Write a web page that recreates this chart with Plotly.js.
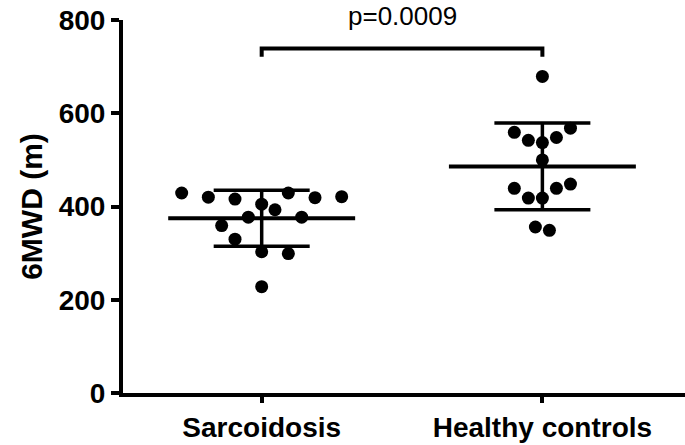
<!DOCTYPE html>
<html>
<head>
<meta charset="utf-8">
<script src="https://cdn.plot.ly/plotly-3.0.1.min.js"></script>
<style>html,body{margin:0;padding:0;background:#fff;}#chart{width:685px;height:445px;}</style>
</head>
<body>
<div id="chart"></div>
<script>
// Data
var categories = ["Sarcoidosis", "Healthy controls"];
var sarcoidosisValues = [429, 420, 416, 405, 429, 419, 421, 393, 377, 377, 359, 330, 303, 299, 228];
var sarcoidosisJitter = [-0.285, -0.19, -0.095, 0, 0.095, 0.19, 0.285, 0.0475, 0.1425, -0.0475, -0.1425, -0.095, 0, 0.095, 0];
var healthyValues = [679, 559, 542, 537, 548, 568, 500, 439, 418, 418, 439, 448, 356, 349];
var healthyJitter = [0, -0.1, -0.05, 0, 0.05, 0.1, 0, -0.1, -0.05, 0, 0.05, 0.1, -0.025, 0.025];
var groupMeans = [375, 486];
var groupSD = [60, 93];
var yTickValues = [0, 200, 400, 600, 800];
var pValueText = "p=0.0009";
var bracketTop = 739;
var bracketBottom = 721;

var meanHalfWidth = 0.333;
var traces = [];
var groups = [
  {vals: sarcoidosisValues, jit: sarcoidosisJitter},
  {vals: healthyValues, jit: healthyJitter}
];
groups.forEach(function (g, i) {
  traces.push({
    type: "scatter", mode: "markers",
    x: g.jit.map(function (d) { return i + d; }),
    y: g.vals,
    marker: {color: "#000", size: 13},
    hoverinfo: "y", showlegend: false
  });
  traces.push({
    type: "scatter", mode: "lines",
    x: [i - meanHalfWidth, i + meanHalfWidth],
    y: [groupMeans[i], groupMeans[i]],
    line: {color: "#000", width: 4},
    hoverinfo: "skip", showlegend: false
  });
  traces.push({
    type: "scatter", mode: "markers",
    x: [i], y: [groupMeans[i]],
    marker: {color: "rgba(0,0,0,0)", size: 1},
    error_y: {type: "data", array: [groupSD[i]], visible: true, color: "#000", thickness: 3.5, width: 48},
    hoverinfo: "skip", showlegend: false
  });
});
traces.push({
  type: "scatter", mode: "lines",
  x: [0, 0, 1, 1],
  y: [bracketBottom, bracketTop, bracketTop, bracketBottom],
  line: {color: "#000", width: 4},
  hoverinfo: "skip", showlegend: false, cliponaxis: false
});

var layout = {
  width: 685, height: 445,
  margin: {l: 123, r: 0, t: 20, b: 52},
  paper_bgcolor: "#fff", plot_bgcolor: "#fff",
  font: {family: "Liberation Sans, Arial, sans-serif", color: "#000"},
  xaxis: {
    range: [-0.494, 1.508],
    tickvals: [0, 1], ticktext: categories,
    showgrid: false, zeroline: false,
    showline: true, linecolor: "#000", linewidth: 4,
    ticks: "outside", ticklen: 6, tickwidth: 4, tickcolor: "#000",
    tickfont: {size: 28, family: "Liberation Sans, Arial, sans-serif", weight: "bold"}
  },
  yaxis: {
    range: [0, 800],
    tickvals: yTickValues,
    showgrid: false, zeroline: false,
    showline: true, linecolor: "#000", linewidth: 4,
    ticks: "outside", ticklen: 8, tickwidth: 4, tickcolor: "#000",
    tickfont: {size: 28, family: "Liberation Sans, Arial, sans-serif", weight: "bold"},
    title: {text: "6MWD (m)", font: {size: 30, family: "Liberation Sans, Arial, sans-serif", weight: "bold"}, standoff: 8}
  },
  annotations: [{
    x: 0.5, y: 1.0094, xref: "x", yref: "paper",
    text: pValueText, showarrow: false,
    font: {size: 26, family: "Liberation Sans, Arial, sans-serif", color: "#000"},
    xanchor: "center", yanchor: "middle"
  }]
};
Plotly.newPlot("chart", traces, layout, {displayModeBar: false, staticPlot: true});
</script>
</body>
</html>
